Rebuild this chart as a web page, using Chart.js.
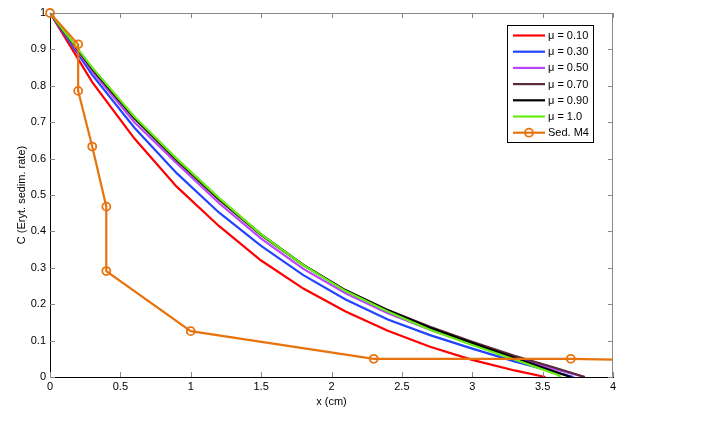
<!DOCTYPE html>
<html>
<head>
<meta charset="utf-8">
<script src="https://cdn.jsdelivr.net/npm/chart.js@4.4.1/dist/chart.umd.min.js"></script>
<style>
  html, body { margin: 0; padding: 0; background: #fff; }
  #wrap { position: relative; width: 708px; height: 435px; }
</style>
</head>
<body>
<div id="wrap"><canvas id="myChart" width="708" height="435"></canvas></div>
<script>
// x positions of the model curves (cm)
var x_red = [0, 0.3, 0.6, 0.9, 1.2, 1.5, 1.8, 2.1, 2.4, 2.7, 3.0, 3.3, 3.52];
var c_red = [1, 0.81, 0.655, 0.523, 0.415, 0.32, 0.243, 0.18, 0.127, 0.083, 0.047, 0.018, 0];
var x_blue = [0, 0.3, 0.6, 0.9, 1.2, 1.5, 1.8, 2.1, 2.4, 2.7, 3.0, 3.3, 3.6, 3.72];
var c_blue = [1, 0.83, 0.685, 0.56, 0.452, 0.36, 0.28, 0.213, 0.158, 0.115, 0.078, 0.043, 0.012, 0];
var x_purple = [0, 0.3, 0.6, 0.9, 1.2, 1.5, 1.8, 2.1, 2.4, 2.7, 3.0, 3.3, 3.6, 3.8];
var c_purple = [1, 0.84, 0.70, 0.587, 0.478, 0.38, 0.297, 0.23, 0.175, 0.13, 0.09, 0.053, 0.02, 0];
var x_brown = [0, 0.3, 0.6, 0.9, 1.2, 1.5, 1.8, 2.1, 2.4, 2.7, 3.0, 3.3, 3.6, 3.8];
var c_brown = [1, 0.845, 0.71, 0.595, 0.487, 0.39, 0.307, 0.238, 0.184, 0.138, 0.097, 0.058, 0.024, 0];
var x_black = [0, 0.3, 0.6, 0.9, 1.2, 1.5, 1.8, 2.1, 2.4, 2.7, 3.0, 3.3, 3.6, 3.7];
var c_black = [1, 0.848, 0.712, 0.598, 0.49, 0.392, 0.308, 0.238, 0.183, 0.135, 0.093, 0.053, 0.013, 0];
var x_green = [0, 0.3, 0.6, 0.9, 1.2, 1.5, 1.8, 2.1, 2.4, 2.7, 3.0, 3.3, 3.6, 3.63];
var c_green = [1, 0.85, 0.715, 0.60, 0.492, 0.392, 0.307, 0.236, 0.18, 0.13, 0.088, 0.048, 0.007, 0];
// measured Sed. M4
var x_sed = [0, 0.2, 0.2, 0.3, 0.4, 0.4, 1.0, 2.3, 3.7, 4.6];
var c_sed = [1, 0.914, 0.786, 0.633, 0.468, 0.291, 0.126, 0.05, 0.05, 0.044];

var labels = ['\u03bc = 0.10', '\u03bc = 0.30', '\u03bc = 0.50', '\u03bc = 0.70', '\u03bc = 0.90', '\u03bc = 1.0', 'Sed. M4'];
var colors = ['#ff0000', '#2244ff', '#bb44ff', '#5a2a3c', '#000000', '#66ee11', '#e8720c'];

function pts(xs, ys) {
    let out = [];
    for (let i = 0; i < xs.length; i++) out.push({ x: xs[i], y: ys[i] });
    return out;
}
var series = [[x_red, c_red], [x_blue, c_blue], [x_purple, c_purple], [x_brown, c_brown],
              [x_black, c_black], [x_green, c_green], [x_sed, c_sed]];
var datasets = [];
for (let i = 0; i < series.length; i++) {
    let isSed = (i == 6);
    datasets.push({
        label: labels[i],
        data: pts(series[i][0], series[i][1]),
        borderColor: colors[i],
        backgroundColor: 'rgba(0,0,0,0)',
        borderWidth: 2.2,
        tension: 0,
        pointRadius: isSed ? 4 : 0,
        pointBorderWidth: 1.8,
        pointBorderColor: colors[i],
        pointBackgroundColor: 'rgba(0,0,0,0)',
        clip: isSed ? { left: 6, top: 6, right: 0, bottom: 0 } : 0,
        order: 7 - i
    });
}

const font_main = "'Liberation Sans', Arial, sans-serif";
const fmt = v => String(Number(v.toFixed(1)));

// inward ticks on all sides + grey top/right frame, legend box
const boxTicks = {
    id: 'boxTicks',
    afterDatasetsDraw(chart) {
        const { ctx, chartArea: a, scales } = chart;
        ctx.save();
        ctx.lineWidth = 1;
        ctx.strokeStyle = '#888';
        ctx.beginPath();
        ctx.moveTo(a.left, a.top + 0.5); ctx.lineTo(a.right, a.top + 0.5);
        ctx.moveTo(a.right - 0.5, a.top); ctx.lineTo(a.right - 0.5, a.bottom);
        scales.x.ticks.forEach(t => {
            let px = Math.round(scales.x.getPixelForValue(t.value)) + 0.5;
            ctx.moveTo(px, a.bottom); ctx.lineTo(px, a.bottom - 5);
            ctx.moveTo(px, a.top); ctx.lineTo(px, a.top + 5);
        });
        scales.y.ticks.forEach(t => {
            let py = Math.round(scales.y.getPixelForValue(t.value)) + 0.5;
            ctx.moveTo(a.left, py); ctx.lineTo(a.left + 5, py);
            ctx.moveTo(a.right, py); ctx.lineTo(a.right - 5, py);
        });
        ctx.stroke();
        ctx.restore();
    },
    afterDraw(chart) {
        const ctx = chart.ctx;
        const bx = 507, by = 25, bw = 86, bh = 117;
        ctx.save();
        ctx.fillStyle = '#fff';
        ctx.fillRect(bx, by, bw, bh);
        ctx.strokeStyle = '#000';
        ctx.lineWidth = 1;
        ctx.strokeRect(bx + 0.5, by + 0.5, bw, bh);
        ctx.font = '11px ' + font_main;
        ctx.textBaseline = 'middle';
        ctx.textAlign = 'left';
        for (let i = 0; i < labels.length; i++) {
            let y = 35.5 + i * 16.2;
            ctx.strokeStyle = colors[i];
            ctx.lineWidth = 2.2;
            ctx.beginPath();
            ctx.moveTo(513, y); ctx.lineTo(545, y);
            ctx.stroke();
            if (i == 6) {
                ctx.lineWidth = 1.8;
                ctx.beginPath();
                ctx.arc(529, y, 4, 0, Math.PI * 2);
                ctx.stroke();
            }
            ctx.fillStyle = '#000';
            ctx.fillText(labels[i], 548, y + 0.5);
        }
        ctx.restore();
    }
};

var ctx = document.getElementById('myChart');
var chart = new Chart(ctx, {
    type: 'line',
    data: { datasets: datasets },
    plugins: [boxTicks],
    options: {
        responsive: false,
        animation: false,
        layout: { padding: { left: 0, right: 95, top: 13, bottom: 0 } },
        plugins: { legend: { display: false }, tooltip: { enabled: false } },
        scales: {
            x: {
                type: 'linear',
                min: 0, max: 4,
                afterFit: s => { s.height = 58; },
                ticks: { stepSize: 0.5, padding: 3, color: '#000', font: { family: font_main, size: 11 }, maxRotation: 0, callback: fmt },
                grid: { display: false, drawTicks: false },
                border: { display: true, color: '#000', width: 1 },
                title: { display: true, text: 'x (cm)', color: '#000', font: { family: font_main, size: 11 }, padding: { top: 0, bottom: 26 } }
            },
            y: {
                min: 0, max: 1,
                afterFit: s => { s.width = 50; },
                ticks: { stepSize: 0.1, padding: 4, color: '#000', font: { family: font_main, size: 11 }, callback: fmt },
                grid: { display: false, drawTicks: false },
                border: { display: true, color: '#000', width: 1 },
                title: { display: true, text: 'C (Eryt. sedim. rate)', color: '#000', font: { family: font_main, size: 11 }, padding: { top: 15, bottom: 0 } }
            }
        }
    }
});
</script>
</body>
</html>
